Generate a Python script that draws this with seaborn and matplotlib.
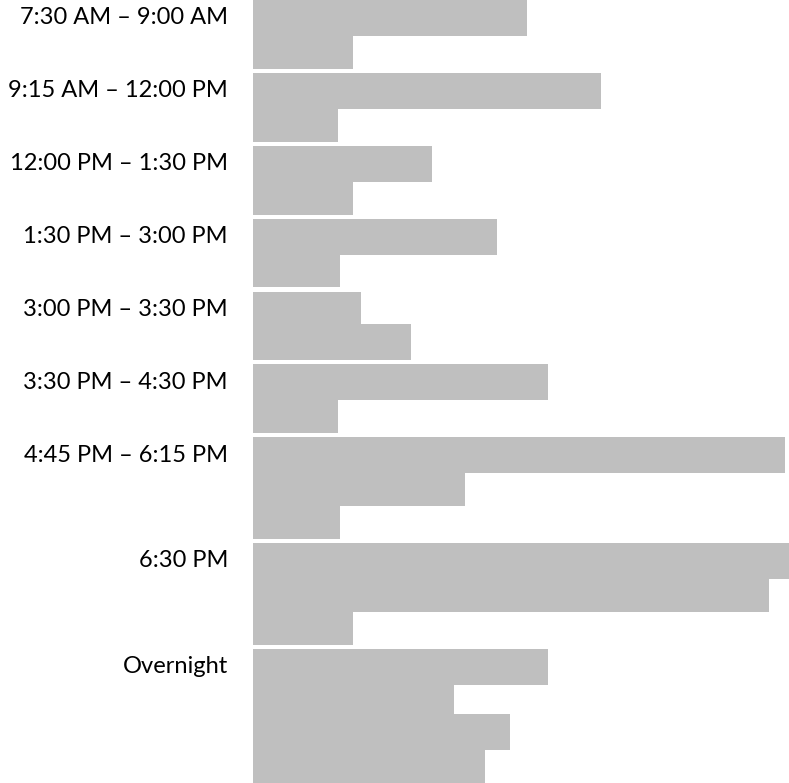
import matplotlib
matplotlib.use("Agg")
import matplotlib.pyplot as plt
import seaborn as sns
import pandas as pd
from matplotlib.transforms import blended_transform_factory

# ---- data ----
categories = [
    "7:30 AM – 9:00 AM",
    "9:15 AM – 12:00 PM",
    "12:00 PM – 1:30 PM",
    "1:30 PM – 3:00 PM",
    "3:00 PM – 3:30 PM",
    "3:30 PM – 4:30 PM",
    "4:45 PM – 6:15 PM",
    "6:30 PM",
    "Overnight",
]
g1 = [274, 100]
g2 = [348, 85]
g3 = [179, 100]
g4 = [244, 87]
g5 = [108, 158]
g6 = [295, 85]
g7 = [532, 212, 87]
g8 = [536, 516, 100]
g9 = [295, 201, 257, 232]
group_values = [g1, g2, g3, g4, g5, g6, g7, g8, g9]

# ---- layout (pixel-like data units on the y axis) ----
ROW_PITCH = 32.8
BAR_H = 36.0
GROUP_EXTRA = 7.3
X_MAX = 536
Y_TOTAL = 783.2

rows = []
label_pos = []
start = 0.0
for cat, vals in zip(categories, group_values):
    for j, v in enumerate(vals):
        rows.append({"category": cat, "pos": start + j * ROW_PITCH + BAR_H / 2, "value": v})
    label_pos.append(start + BAR_H / 2)
    start += len(vals) * ROW_PITCH + GROUP_EXTRA
df = pd.DataFrame(rows)

sns.set_theme(style="white")
plt.rcParams["font.family"] = ["Lato", "DejaVu Sans"]

W, H = 789, 783
fig = plt.figure(figsize=(W / 100, H / 100), dpi=100)
ax = fig.add_axes([253 / W, 0, 1 - 253 / W, 1])

sns.barplot(
    data=df, x="value", y="pos", orient="y", native_scale=True,
    width=BAR_H / ROW_PITCH, color="#BFBFBF", saturation=1,
    errorbar=None, linewidth=0, ax=ax,
)
ax.set_xlim(0, X_MAX)
ax.set_ylim(Y_TOTAL, 0)
ax.axis("off")

# fit label font size so the widest label spans ~220 px
trans = blended_transform_factory(fig.transFigure, ax.transData)
renderer = fig.canvas.get_renderer()
probe = fig.text(0, 0, "9:15 AM – 12:00 PM", fontsize=16)
wpx = probe.get_window_extent(renderer=renderer).width
probe.remove()
fs = 16 * 220 / wpx

for cat, y in zip(categories, label_pos):
    ax.text(228 / W, y, cat, transform=trans, ha="right", va="center",
            fontsize=fs, color="#000000")

fig.savefig("out.png", dpi=100)
